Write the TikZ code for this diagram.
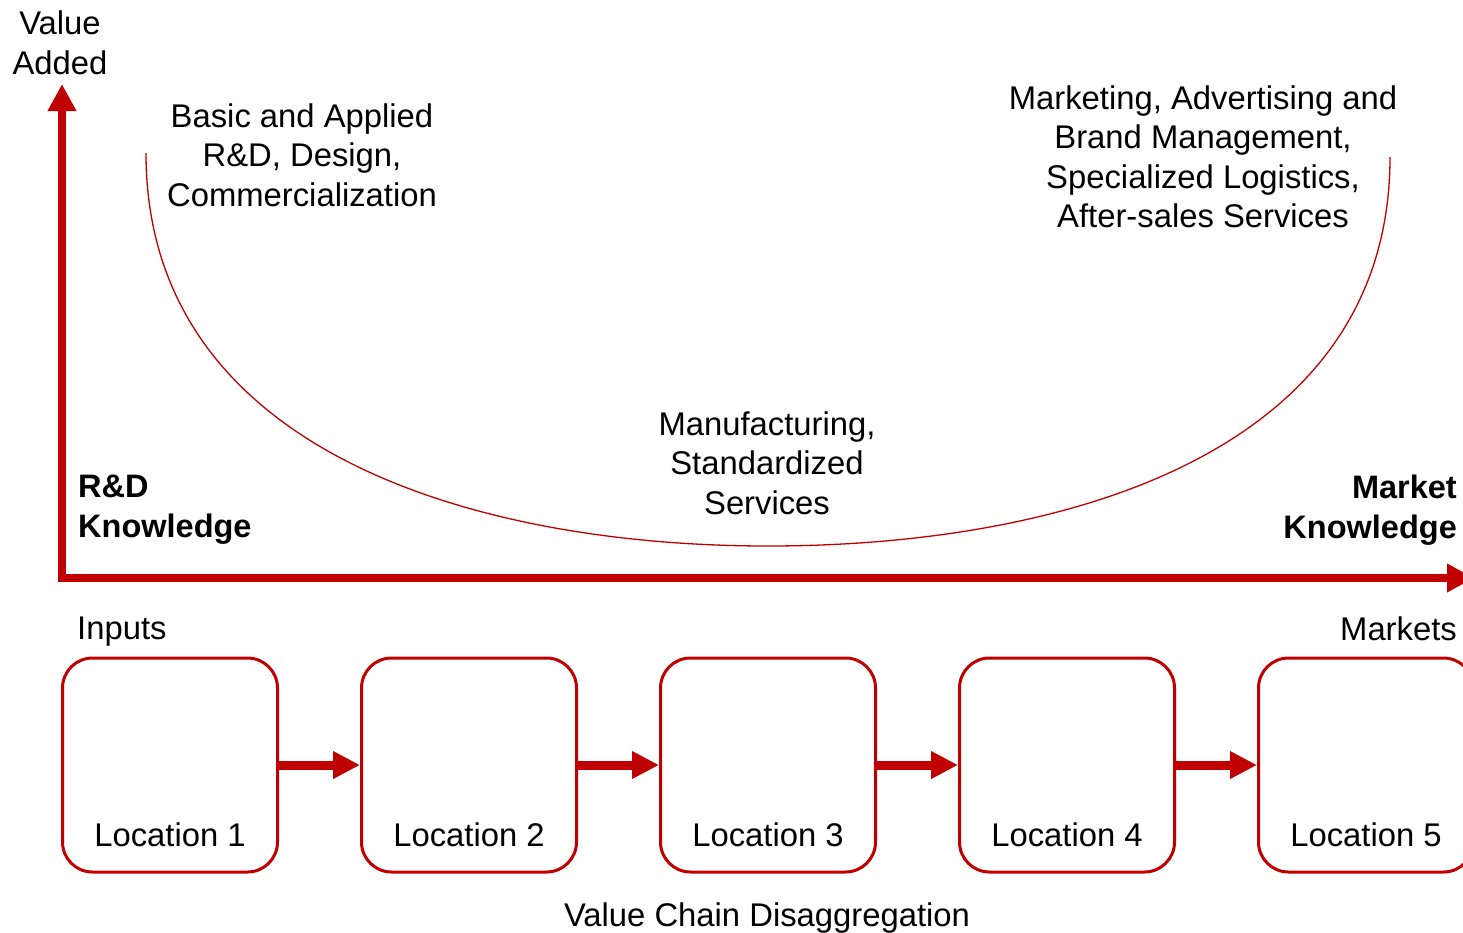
\documentclass[tikz,border=0pt]{standalone}
\usepackage{fontspec}
\setmainfont{Liberation Sans}
\usetikzlibrary{arrows.meta}
\definecolor{darkred}{HTML}{C00000}
\begin{document}
\begin{tikzpicture}[x=1pt,y=-1pt,
  txt/.style={inner sep=0pt, font=\fontsize{32.8}{39.5}\selectfont, align=center, anchor=north},
  boldtxt/.style={txt, font=\fontsize{32.5}{40}\selectfont\bfseries},
  locbox/.style={draw=darkred, line width=3pt, rounded corners=30pt, minimum width=215pt, minimum height=214pt, inner sep=0pt},
  axis/.style={draw=darkred, line width=8pt, line join=miter, {Triangle[length=27pt,width=27pt]}-{Triangle[length=27pt,width=27pt]}},
  flow/.style={draw=darkred, line width=9pt, -{Triangle[length=27pt,width=26pt]}},
  ucurve/.style={draw=darkred, line width=1.3pt}]
\useasboundingbox (0,0) rectangle (1463,932);

% axes
\coordinate (ytip) at (62,84);
\coordinate (origin) at (62,578);
\coordinate (xtip) at (1474,578);
\draw[axis] (ytip) -- (origin) -- (xtip);

% smile curve
\coordinate (cl) at (146,153);
\coordinate (cm) at (768,546);
\coordinate (cr) at (1390,157);
\draw[ucurve] (cl) .. controls (146,453) and (478,546) .. (cm)
                   .. controls (1058,546) and (1390,457) .. (cr);

% texts
\node[txt] (va) at (60,11) {Value\\Added};
\node[txt] (rdtext) at (302,103.5) {Basic and Applied\\R\&D, Design,\\Commercialization};
\node[txt] (mktext) at (1203,85.5) {Marketing, Advertising and\\Brand Management,\\Specialized Logistics,\\After-sales Services};
\node[txt] (mftext) at (767,411.5) {Manufacturing,\\Standardized\\Services};
\node[boldtxt, anchor=north west, align=left] (rdk) at (78,475) {R\&D\\Knowledge};
\node[boldtxt, anchor=north east, align=right] (mkk) at (1457,475) {Market\\Knowledge};
\node[txt, anchor=north west] (inp) at (77,617) {Inputs};
\node[txt, anchor=north east] (mkt) at (1457,617) {Markets};
\node[txt] (vcd) at (767,903) {Value Chain Disaggregation};

% location boxes
\foreach \i/\x in {1/170,2/469,3/768,4/1067,5/1366}{
  \node[locbox] (b\i) at (\x,765) {};
  \node[txt] (l\i) at (\x,823) {Location \i};
}
\foreach \i/\j in {1/2,2/3,3/4,4/5}{
  \draw[flow] (b\i.east) -- (b\j.west);
}
\end{tikzpicture}
\end{document}
